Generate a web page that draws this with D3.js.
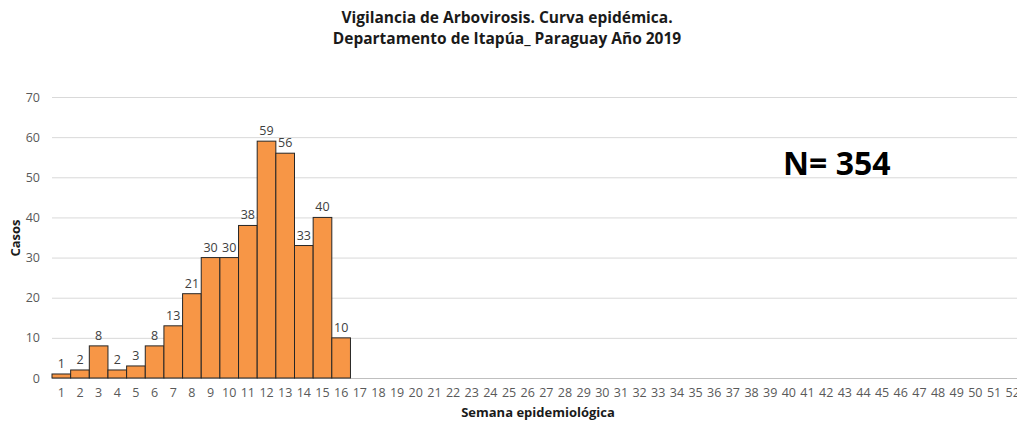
<!DOCTYPE html>
<html>
<head>
<meta charset="utf-8">
<script src="https://cdn.jsdelivr.net/npm/d3@7"></script>
<style>
  body { margin: 0; background: #fff; }
  svg { font-family: "Open Sans", "Noto Sans", sans-serif; }
</style>
</head>
<body>
<div id="vis"></div>
<script>
const FRAME_WIDTH = 1017;
const FRAME_HEIGHT = 421;
const MARGINS = {left: 52, right: -5, top: 97, bottom: 43};

const VIS_WIDTH = FRAME_WIDTH - MARGINS.left - MARGINS.right;
const VIS_HEIGHT = FRAME_HEIGHT - MARGINS.top - MARGINS.bottom;

// semanas epidemiologicas 1..52
const weeks = d3.range(1, 53);
const cases = [1, 2, 8, 2, 3, 8, 13, 21, 30, 30, 38, 59, 56, 33, 40, 10];
const yTicks = [0, 10, 20, 30, 40, 50, 60, 70];

const data = cases.map((v, i) => ({week: weeks[i], value: v}));

const svg = d3.select("#vis")
  .append("svg")
    .attr("width", FRAME_WIDTH)
    .attr("height", FRAME_HEIGHT);

const X_SCALE = d3.scaleBand()
  .domain(weeks)
  .range([0, VIS_WIDTH])
  .padding(0);

const Y_SCALE = d3.scaleLinear()
  .domain([0, 70])
  .range([VIS_HEIGHT, 0]);

const g = svg.append("g")
  .attr("transform", "translate(" + MARGINS.left + "," + MARGINS.top + ")");

// gridlines
g.append("g")
  .selectAll("line")
  .data(yTicks)
  .enter()
  .append("line")
    .attr("x1", 0)
    .attr("x2", FRAME_WIDTH - MARGINS.left)
    .attr("y1", d => Y_SCALE(d) + 0.5)
    .attr("y2", d => Y_SCALE(d) + 0.5)
    .attr("stroke", d => d === 0 ? "#bfbfbf" : "#d9d9d9")
    .attr("stroke-width", 1);

// y axis labels
const yAxis = g.append("g")
  .call(d3.axisLeft(Y_SCALE).tickValues(yTicks).tickSize(0).tickPadding(12));
yAxis.select(".domain").remove();
yAxis.selectAll("text").attr("font-size", "12.5px").attr("fill", "#595959")
  .attr("font-family", "Open Sans, sans-serif");

// x axis labels
const xAxis = g.append("g")
  .attr("transform", "translate(0," + VIS_HEIGHT + ")")
  .call(d3.axisBottom(X_SCALE).tickSize(0).tickPadding(10));
xAxis.select(".domain").remove();
xAxis.selectAll("text").attr("font-size", "12.5px").attr("fill", "#595959")
  .attr("font-family", "Open Sans, sans-serif");

// bars
g.selectAll(".bar")
  .data(data)
  .enter()
  .append("rect")
    .attr("class", "bar")
    .attr("x", d => X_SCALE(d.week))
    .attr("y", d => Y_SCALE(d.value))
    .attr("width", X_SCALE.bandwidth())
    .attr("height", d => VIS_HEIGHT - Y_SCALE(d.value))
    .attr("fill", "#f79646")
    .attr("stroke", "#262626")
    .attr("stroke-width", 1);

// value labels
g.selectAll(".lbl")
  .data(data)
  .enter()
  .append("text")
    .attr("x", d => X_SCALE(d.week) + X_SCALE.bandwidth() / 2)
    .attr("y", d => Y_SCALE(d.value) - 6)
    .attr("text-anchor", "middle")
    .attr("font-size", "12.5px")
    .attr("fill", "#404040")
    .text(d => d.value);

// title
svg.append("text")
  .attr("x", 507).attr("y", 23)
  .attr("text-anchor", "middle")
  .attr("font-size", "15.5px").attr("font-weight", "bold").attr("fill", "#1a1a1a")
  .text("Vigilancia de Arbovirosis. Curva epidémica.");
svg.append("text")
  .attr("x", 507).attr("y", 44)
  .attr("text-anchor", "middle")
  .attr("font-size", "15.5px").attr("font-weight", "bold").attr("fill", "#1a1a1a")
  .text("Departamento de Itapúa_ Paraguay Año 2019");

// axis titles
svg.append("text")
  .attr("transform", "translate(20,238) rotate(-90)")
  .attr("text-anchor", "middle")
  .attr("font-size", "13px").attr("font-weight", "bold").attr("fill", "#1a1a1a")
  .text("Casos");
svg.append("text")
  .attr("x", 538).attr("y", 417)
  .attr("text-anchor", "middle")
  .attr("font-size", "13px").attr("font-weight", "bold").attr("fill", "#1a1a1a")
  .text("Semana epidemiológica");

// total
svg.append("text")
  .attr("x", 783).attr("y", 175)
  .attr("font-size", "32px").attr("font-weight", "bold").attr("fill", "#000")
  .text("N= 354");
</script>
</body>
</html>
